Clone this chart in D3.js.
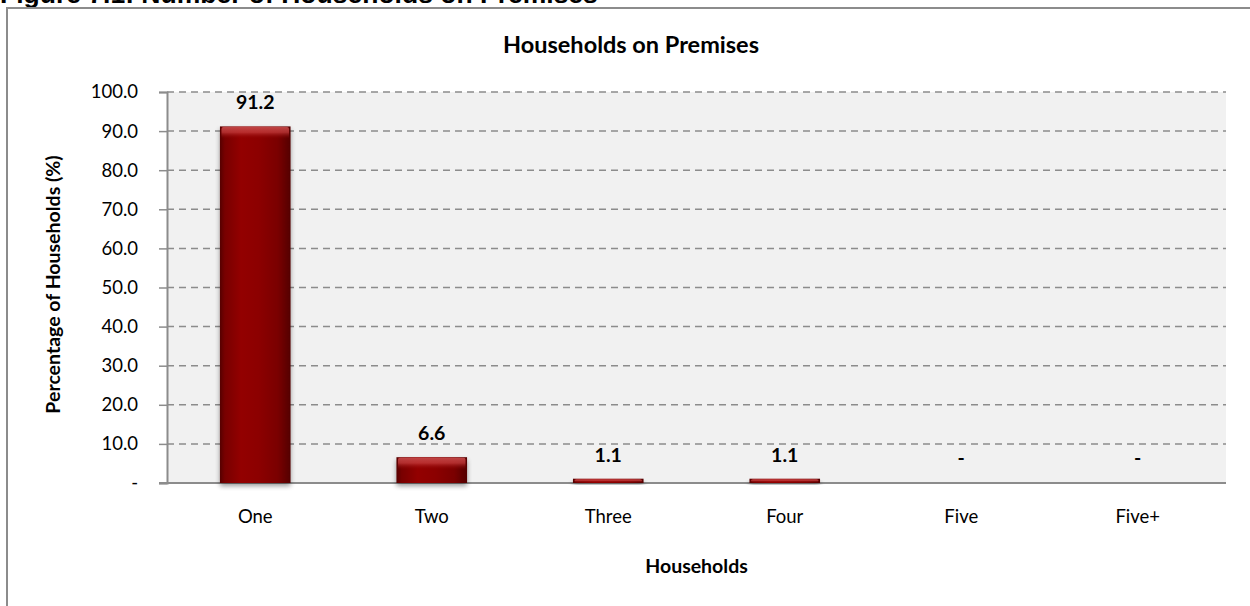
<!DOCTYPE html>
<html>
<head>
<meta charset="utf-8">
<script src="https://cdn.jsdelivr.net/npm/d3@7"></script>
<style>
  html, body { margin: 0; padding: 0; background: #ffffff; overflow: hidden; }
  svg { display: block; }
</style>
</head>
<body>
<svg id="chart" width="1250" height="606"></svg>
<script>
// Households on premises, percentage of households
const categories = ["One", "Two", "Three", "Four", "Five", "Five+"];
const values = [91.2, 6.6, 1.1, 1.1, 0, 0];
const yTicks = [0, 10, 20, 30, 40, 50, 60, 70, 80, 90, 100];

const svg = d3.select("#chart");
const W = 1250, H = 606;
const font = "Lato, 'Open Sans', sans-serif";
const grey = "#8c8c8c";

const plot = { left: 167, right: 1226, top: 92, bottom: 483 };

const x = d3.scaleBand()
  .domain(categories)
  .range([plot.left, plot.right])
  .paddingInner(0.6)
  .paddingOuter(0.3);

const y = d3.scaleLinear()
  .domain([0, 100])
  .range([plot.bottom, plot.top]);

const defs = svg.append("defs");

// Glossy bar fill: darker sides, brighter core
const gradH = defs.append("linearGradient").attr("id", "barH").attr("x1", 0).attr("x2", 1).attr("y1", 0).attr("y2", 0);
[["0%", "#560000"], ["7%", "#780000"], ["30%", "#930606"], ["55%", "#8c0303"], ["82%", "#7a0000"], ["100%", "#540000"]]
  .forEach(([o, c]) => gradH.append("stop").attr("offset", o).attr("stop-color", c));

const gradTop = defs.append("linearGradient").attr("id", "barTop").attr("x1", 0).attr("x2", 0).attr("y1", 0).attr("y2", 1);
[["0%", "#c24848", 0.95], ["45%", "#c84040", 0.7], ["100%", "#8a0000", 0]]
  .forEach(([o, c, a]) => gradTop.append("stop").attr("offset", o).attr("stop-color", c).attr("stop-opacity", a));

const shadow = defs.append("filter").attr("id", "shadow").attr("x", "-20%").attr("y", "-20%").attr("width", "140%").attr("height", "160%");
shadow.append("feGaussianBlur").attr("in", "SourceAlpha").attr("stdDeviation", 2.5).attr("result", "b");
shadow.append("feOffset").attr("in", "b").attr("dx", 0).attr("dy", 3).attr("result", "o");
shadow.append("feComponentTransfer").attr("in", "o").attr("result", "s")
  .append("feFuncA").attr("type", "linear").attr("slope", 0.4);
const merge = shadow.append("feMerge");
merge.append("feMergeNode").attr("in", "s");
merge.append("feMergeNode").attr("in", "SourceGraphic");

// Figure caption above the frame
svg.append("text")
  .attr("x", 0).attr("y", 3)
  .attr("font-family", "'Liberation Sans', Arial, sans-serif")
  .attr("font-weight", "bold")
  .attr("font-size", 26.5)
  .attr("fill", "#000")
  .text("Figure 7.1: Number of Households on Premises");

// Chart frame
svg.append("rect")
  .attr("x", 7).attr("y", 8)
  .attr("width", W + 20).attr("height", H + 20)
  .attr("fill", "#fff")
  .attr("stroke", grey)
  .attr("stroke-width", 2);

// Plot background
svg.append("rect")
  .attr("x", plot.left).attr("y", plot.top)
  .attr("width", plot.right - plot.left).attr("height", plot.bottom - plot.top)
  .attr("fill", "#f1f1f1");

// Gridlines
svg.append("g")
  .selectAll("line")
  .data(yTicks.filter(d => d > 0))
  .join("line")
  .attr("x1", plot.left).attr("x2", plot.right)
  .attr("y1", d => y(d)).attr("y2", d => y(d))
  .attr("stroke", grey)
  .attr("stroke-width", 1.5)
  .attr("stroke-dasharray", "7,5");

// Y axis
const yAxis = d3.axisLeft(y)
  .tickValues(yTicks)
  .tickSize(8)
  .tickPadding(21)
  .tickFormat(d => d === 0 ? "-" : d3.format(".1f")(d));

const gy = svg.append("g")
  .attr("transform", `translate(${plot.left},0)`)
  .call(yAxis);
gy.select(".domain").attr("stroke", grey).attr("stroke-width", 2);
gy.selectAll(".tick line").attr("stroke", grey).attr("stroke-width", 1.5);
gy.selectAll(".tick text")
  .attr("font-family", font)
  .attr("font-size", 18.5)
  .attr("fill", "#000");

// X axis
const xAxis = d3.axisBottom(x).tickSize(0).tickPadding(27);
const gx = svg.append("g")
  .attr("transform", `translate(0,${plot.bottom})`)
  .call(xAxis);
gx.select(".domain").remove();
gx.append("line")
  .attr("x1", plot.left - 8).attr("x2", plot.right)
  .attr("y1", 0).attr("y2", 0)
  .attr("stroke", grey).attr("stroke-width", 2);
gx.selectAll(".tick text")
  .attr("font-family", font)
  .attr("font-size", 18.5)
  .attr("fill", "#000");

// Bars
const bars = svg.append("g");
const data = categories.map((c, i) => ({ c, v: values[i] }));

bars.selectAll("rect.bar")
  .data(data.filter(d => d.v > 0))
  .join("rect")
  .attr("class", "bar")
  .attr("x", d => x(d.c))
  .attr("y", d => y(d.v))
  .attr("width", x.bandwidth())
  .attr("height", d => y(0) - y(d.v))
  .attr("fill", "url(#barH)")
  .attr("filter", "url(#shadow)");

bars.selectAll("rect.gloss")
  .data(data.filter(d => d.v > 0))
  .join("rect")
  .attr("class", "gloss")
  .attr("x", d => x(d.c) + 1.5)
  .attr("y", d => y(d.v) + 0.5)
  .attr("width", x.bandwidth() - 3)
  .attr("height", d => Math.min(12, y(0) - y(d.v) - 1))
  .attr("rx", 2)
  .attr("fill", "url(#barTop)");

// Value labels
svg.append("g")
  .selectAll("text")
  .data(data)
  .join("text")
  .attr("x", d => x(d.c) + x.bandwidth() / 2)
  .attr("y", d => d.v > 0 ? y(d.v) - 17 : y(0) - 18)
  .attr("text-anchor", "middle")
  .attr("font-family", font)
  .attr("font-weight", "bold")
  .attr("font-size", 19.5)
  .attr("fill", "#000")
  .text(d => d.v > 0 ? d3.format(".1f")(d.v) : "-");

// Titles
svg.append("text")
  .attr("x", 631).attr("y", 53)
  .attr("text-anchor", "middle")
  .attr("font-family", font)
  .attr("font-weight", "bold")
  .attr("font-size", 23.5)
  .attr("fill", "#000")
  .text("Households on Premises");

svg.append("text")
  .attr("x", (plot.left + plot.right) / 2).attr("y", 573)
  .attr("text-anchor", "middle")
  .attr("font-family", font)
  .attr("font-weight", "bold")
  .attr("font-size", 19.5)
  .attr("fill", "#000")
  .text("Households");

svg.append("text")
  .attr("transform", `translate(60,${(plot.top + plot.bottom) / 2 - 3}) rotate(-90)`)
  .attr("text-anchor", "middle")
  .attr("font-family", font)
  .attr("font-weight", "bold")
  .attr("font-size", 19.5)
  .attr("fill", "#000")
  .text("Percentage of Households (%)");
</script>
</body>
</html>
